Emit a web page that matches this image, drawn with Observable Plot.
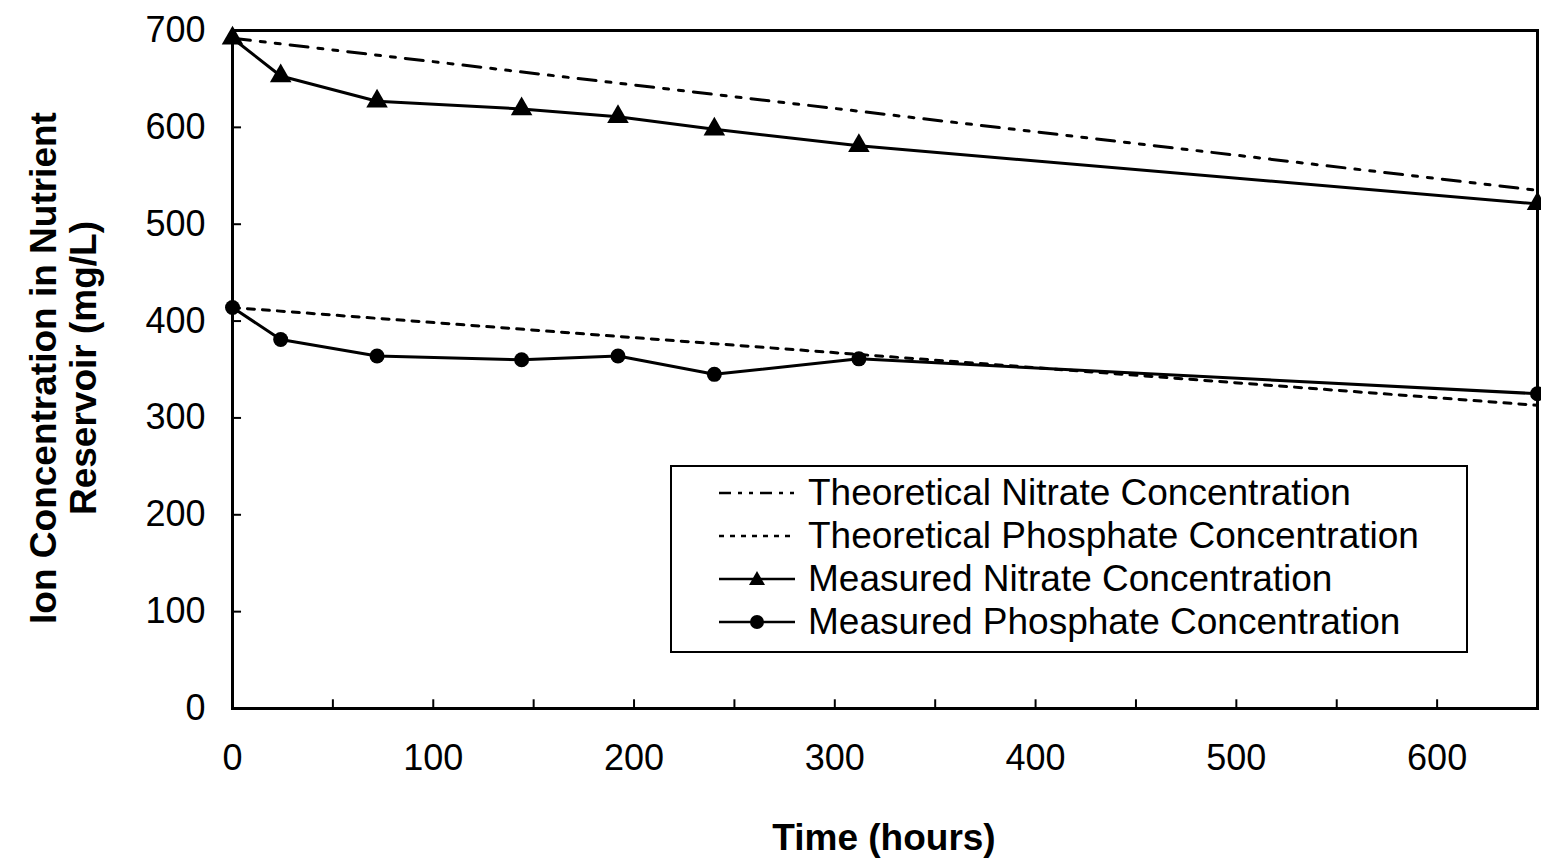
<!DOCTYPE html>
<html>
<head>
<meta charset="utf-8">
<script src="https://cdn.jsdelivr.net/npm/d3@7"></script>
<script src="https://cdn.jsdelivr.net/npm/@observablehq/plot@0.6"></script>
<style>
  html, body { margin: 0; padding: 0; background: #fff; }
  #wrap { position: relative; width: 1541px; height: 860px; font-family: "Liberation Sans", Arial, sans-serif; }
  #ylab { position: absolute; left: 64px; top: 368px; transform: translate(-50%, -50%) rotate(-90deg); font-weight: bold; font-size: 37px; line-height: 40px; text-align: center; white-space: nowrap; color: #000; }
  #xlab { position: absolute; left: 884px; top: 838px; transform: translate(-50%, -50%); font-weight: bold; font-size: 37px; white-space: nowrap; color: #000; }
  #legend { position: absolute; left: 670px; top: 465px; width: 798px; height: 188px; border: 2px solid #000; background: #fff; box-sizing: border-box; }
  #legend .row { position: absolute; left: 45px; height: 40px; display: flex; align-items: center; font-size: 37px; color: #000; white-space: nowrap; }
  #legend svg { margin-right: 11px; }
</style>
</head>
<body>
<div id="wrap"></div>
<script>
// Data
const hours = [0, 24, 72, 144, 192, 240, 312, 650];
const nitrateMeasured = [692, 653, 627, 619, 611, 598, 581, 521];
const phosphateMeasured = [414, 381, 364, 360, 364, 345, 361, 325];
const theoryHours = [0, 650];
const nitrateTheory = [692, 535];
const phosphateTheory = [414, 313];
const xTicks = [0, 100, 200, 300, 400, 500, 600];
const xMinorTicks = [50, 150, 250, 350, 450, 550, 650];
const yTicks = [0, 100, 200, 300, 400, 500, 600, 700];
const legendLabels = ["Theoretical Nitrate Concentration", "Theoretical Phosphate Concentration", "Measured Nitrate Concentration", "Measured Phosphate Concentration"];

const nitM = hours.map((t, i) => ({t, v: nitrateMeasured[i]}));
const phoM = hours.map((t, i) => ({t, v: phosphateMeasured[i]}));
const nitT = theoryHours.map((t, i) => ({t, v: nitrateTheory[i]}));
const phoT = theoryHours.map((t, i) => ({t, v: phosphateTheory[i]}));
const allXTicks = xTicks.concat(xMinorTicks);

const chart = Plot.plot({
  width: 1541,
  height: 860,
  marginLeft: 232,
  marginRight: 4,
  marginTop: 30,
  marginBottom: 152,
  style: { fontFamily: "'Liberation Sans', Arial, sans-serif", fontSize: "36px", color: "#000", background: "#fff" },
  x: { domain: [0, 650] },
  y: { domain: [0, 700] },
  marks: [
    Plot.axisX(xTicks, { tickSize: 0, tickPadding: 36, label: null, fontSize: 36 }),
    Plot.axisY(yTicks, { tickSize: 0, tickPadding: 27, label: null, fontSize: 36 }),
    Plot.ruleX(allXTicks, { x: d => d, y1: 0, y2: 9, stroke: "#000", strokeWidth: 2 }),
    Plot.ruleY(yTicks, { y: d => d, x1: 0, x2: 4.5, stroke: "#000", strokeWidth: 2 }),
    Plot.line(nitT, { x: "t", y: "v", stroke: "#000", strokeWidth: 3, strokeDasharray: "18,10,5,10,5,10" }),
    Plot.line(phoT, { x: "t", y: "v", stroke: "#000", strokeWidth: 3, strokeDasharray: "7,8" }),
    Plot.line(nitM, { x: "t", y: "v", stroke: "#000", strokeWidth: 3 }),
    Plot.line(phoM, { x: "t", y: "v", stroke: "#000", strokeWidth: 3 }),
    Plot.dot(nitM, { x: "t", y: "v", symbol: "triangle", r: 8, fill: "#000", stroke: "none" }),
    Plot.dot(phoM, { x: "t", y: "v", symbol: "circle", r: 7.5, fill: "#000", stroke: "none" }),
    Plot.frame({ stroke: "#000", strokeWidth: 3 })
  ]
});

const wrap = document.getElementById("wrap");
wrap.appendChild(chart);

const ylab = document.createElement("div");
ylab.id = "ylab";
ylab.innerHTML = "Ion Concentration in Nutrient<br>Reservoir (mg/L)";
wrap.appendChild(ylab);

const xlab = document.createElement("div");
xlab.id = "xlab";
xlab.textContent = "Time (hours)";
wrap.appendChild(xlab);

// Legend
const legend = document.createElement("div");
legend.id = "legend";
const samples = [
  '<line x1="2" y1="20" x2="78" y2="20" stroke="#000" stroke-width="2.5" stroke-dasharray="12,7,4,7,4,7"/>',
  '<line x1="2" y1="20" x2="78" y2="20" stroke="#000" stroke-width="2.5" stroke-dasharray="5,6"/>',
  '<line x1="2" y1="20" x2="78" y2="20" stroke="#000" stroke-width="2.5"/><path d="M40,12 L48,26 L32,26 Z" fill="#000"/>',
  '<line x1="2" y1="20" x2="78" y2="20" stroke="#000" stroke-width="2.5"/><circle cx="40" cy="20" r="7" fill="#000"/>'
];
legendLabels.forEach((lab, i) => {
  const row = document.createElement("div");
  row.className = "row";
  row.style.top = (6 + i * 43) + "px";
  row.innerHTML = '<svg width="80" height="40">' + samples[i] + '</svg><span>' + lab + '</span>';
  legend.appendChild(row);
});
wrap.appendChild(legend);
</script>
</body>
</html>
